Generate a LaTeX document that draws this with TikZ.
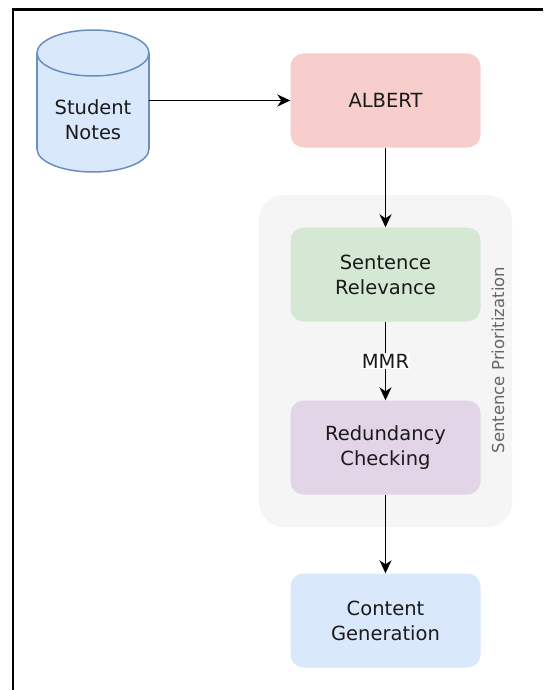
\documentclass[tikz,border=0pt]{standalone}
\usepackage{fontspec}
\setmainfont{DejaVu Sans}
\usetikzlibrary{arrows.meta}
\definecolor{cylfill}{HTML}{DAE8FC}
\definecolor{cylline}{HTML}{6C8EBF}
\definecolor{redfill}{HTML}{F8CECC}
\definecolor{greenfill}{HTML}{D5E8D4}
\definecolor{purplefill}{HTML}{E1D5E7}
\definecolor{bluefill}{HTML}{DAE8FC}
\definecolor{groupfill}{HTML}{F5F5F5}
\definecolor{grouptext}{HTML}{666666}
\definecolor{txt}{HTML}{1A1A1A}
\tikzset{
  procbox/.style={rectangle, rounded corners=13pt, minimum width=190pt, minimum height=94pt,
    inner sep=0pt, align=center, font=\fontsize{19.5}{25}\selectfont, text=txt},
  flow/.style={draw=black, line width=1.6pt, -{Stealth[length=13pt,width=12pt,inset=4pt]}},
}
\begin{document}
\begin{tikzpicture}[x=1pt,y=-1pt]
\useasboundingbox (0,0) rectangle (543,690);
\fill[white] (0,0) rectangle (543,690);
% frame
\draw[line width=2.2pt] (13,690) -- (13,9.5) -- (543,9.5);
% group
\fill[groupfill, rounded corners=25pt] (259,195) rectangle (512,527);
\node[rotate=90, text=grouptext, font=\fontsize{16.5}{19}\selectfont] (grouplabel) at (498,360) {Sentence Prioritization};
% cylinder
\fill[cylfill] (37,53) rectangle (149,149);
\fill[cylfill] (93,149) ellipse [x radius=56pt, y radius=23pt];
\begin{scope}
\clip (30,149) rectangle (160,180);
\draw[cylline, line width=1.5pt] (93,149) ellipse [x radius=56pt, y radius=23pt];
\end{scope}
\draw[cylline, line width=1.5pt] (37,53) -- (37,149) (149,53) -- (149,149);
\draw[cylline, line width=1.5pt, fill=cylfill] (93,53) ellipse [x radius=56pt, y radius=23pt];
\node[minimum width=112pt, minimum height=142pt, inner sep=0pt] (notes) at (93,100.5) {};
\node[align=center, text=txt, font=\fontsize{19.5}{25}\selectfont] (notestext) at (93,120) {Student\\Notes};
% boxes
\node[procbox, fill=redfill] (albert) at (385.5,100.5) {ALBERT};
\node[procbox, fill=greenfill] (relevance) at (385.5,274.5) {Sentence\\Relevance};
\node[procbox, fill=purplefill] (redundancy) at (385.5,447.5) {Redundancy\\Checking};
\node[procbox, fill=bluefill] (content) at (385.5,620.5) {Content\\Generation};
% connectors
\draw[flow] (notes.east) -- (albert.west);
\draw[flow] (albert.south) -- (relevance.north);
\draw[flow] (relevance.south) -- node[fill=white, inner sep=1pt, text=txt, font=\fontsize{19.5}{22}\selectfont] (mmr) {MMR} (redundancy.north);
\draw[flow] (redundancy.south) -- (content.north);
\end{tikzpicture}
\end{document}
